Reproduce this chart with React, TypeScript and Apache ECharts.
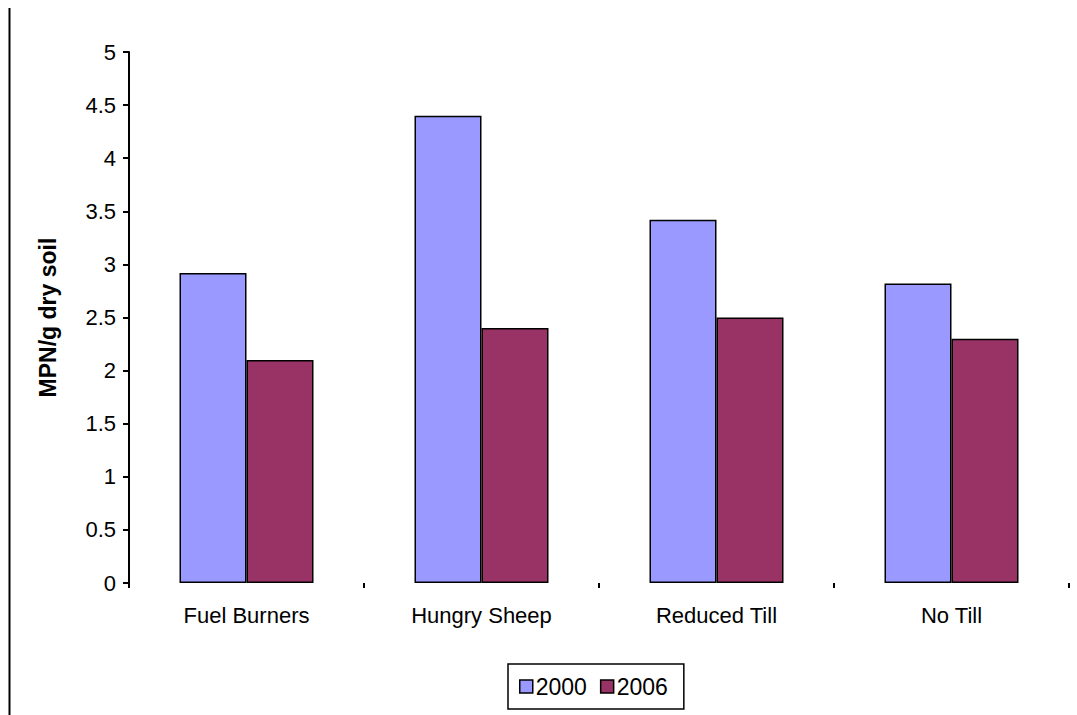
import React, { useEffect, useRef } from "react";
import * as echarts from "echarts";

const categories = ["Fuel Burners", "Hungry Sheep", "Reduced Till", "No Till"];
const seriesNames = ["2000", "2006"];
const values2000 = [2.92, 4.4, 3.42, 2.82];
const values2006 = [2.1, 2.4, 2.5, 2.3];
const colors = ["#9999ff", "#993366"];

export default function App() {
  const ref = useRef<HTMLDivElement>(null);

  useEffect(() => {
    document.body.style.margin = "0";
    const chart = echarts.init(ref.current!, null, { renderer: "svg" });
    const font = "'Liberation Sans', Arial, sans-serif";
    chart.setOption({
      animation: false,
      backgroundColor: "#ffffff",
      textStyle: { fontFamily: font },
      grid: { left: 129, right: 8, top: 52, bottom: 132 },
      graphic: [
        {
          type: "line",
          shape: { x1: 9.5, y1: 8, x2: 9.5, y2: 715 },
          style: { stroke: "#000", lineWidth: 2 },
        },
      ],
      legend: {
        data: seriesNames,
        left: 508,
        top: 664,
        padding: [10, 16, 10, 11],
        itemWidth: 13,
        itemHeight: 13,
        itemGap: 13,
        icon: "rect",
        borderColor: "#000",
        borderWidth: 1.5,
        itemStyle: { borderColor: "#000", borderWidth: 1.5 },
        textStyle: {
          fontSize: 23,
          lineHeight: 25,
          color: "#000",
          fontFamily: font,
          padding: [0, 0, 0, -2],
        },
      },
      xAxis: {
        type: "category",
        data: categories,
        axisLine: { show: false },
        axisTick: { show: true, length: 5, lineStyle: { color: "#000", width: 2 } },
        axisLabel: { fontSize: 22, color: "#000", margin: 21, fontFamily: font },
      },
      yAxis: {
        type: "value",
        min: 0,
        max: 5,
        interval: 0.5,
        name: "MPN/g dry soil",
        nameLocation: "middle",
        nameGap: 70,
        nameTextStyle: { fontSize: 23, fontWeight: "bold", color: "#000", fontFamily: font },
        axisLine: { show: true, lineStyle: { color: "#000", width: 2 } },
        axisTick: { show: true, length: 6, lineStyle: { color: "#000", width: 2 } },
        axisLabel: { fontSize: 22, color: "#000", margin: 13, fontFamily: font },
        splitLine: { show: false },
      },
      series: [
        {
          name: seriesNames[0],
          type: "bar",
          data: values2000,
          barWidth: 67,
          barGap: "0%",
          itemStyle: { color: colors[0], borderColor: "#000", borderWidth: 1.5 },
        },
        {
          name: seriesNames[1],
          type: "bar",
          data: values2006,
          barWidth: 67,
          barGap: "0%",
          itemStyle: { color: colors[1], borderColor: "#000", borderWidth: 1.5 },
        },
      ],
    });
    return () => chart.dispose();
  }, []);

  return (
    <div
      ref={ref}
      style={{ position: "fixed", left: 0, top: 0, width: 1077, height: 715 }}
    />
  );
}
